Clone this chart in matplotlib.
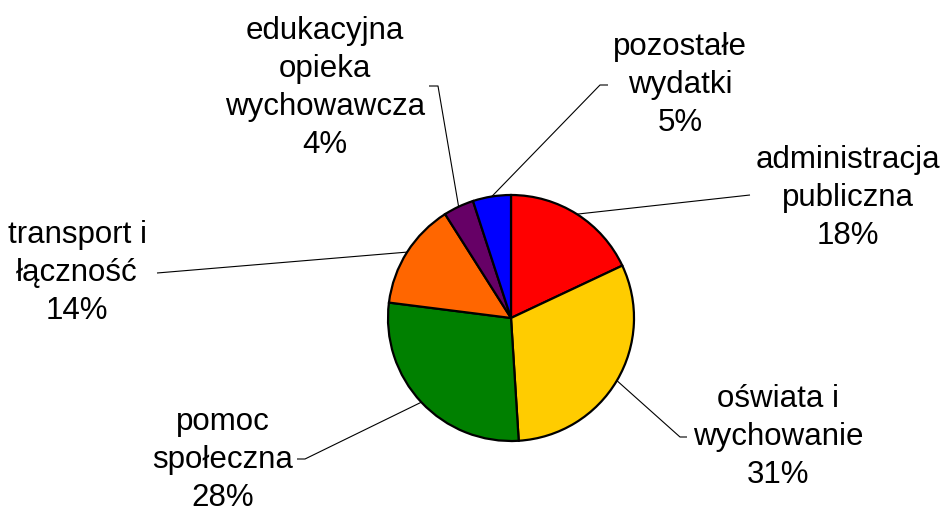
import numpy as np
import matplotlib.pyplot as plt

plt.rcParams['font.family'] = ['Liberation Sans', 'DejaVu Sans']

# data, clockwise from 12 o'clock
categories = ['administracja\npubliczna', 'oświata i\nwychowanie', 'pomoc\nspołeczna',
              'transport i\nłączność', 'edukacyjna\nopieka\nwychowawcza', 'pozostałe\nwydatki']
shares = [18, 31, 28, 14, 4, 5]
colors = ['#FF0000', '#FFCC00', '#008000', '#FF6600', '#660066', '#0000FF']

W, H = 945, 511
CENTER = (511, 318)
RADIUS = 123

# label block centres and leader line elbows / tick ends (pixel coords, y down)
label_pos = [(848, 198), (778, 437), (223, 460), (77, 273), (325, 88), (680, 85)]
elbows = [(750, 195), (680, 437), (305, 459), (157, 273), (438, 86), (600, 85)]
tick_ends = [None, (687, 437), (297, 459), None, (429, 86), (608, 85)]


def px(p):
    return p[0], H - p[1]


fig = plt.figure(figsize=(W / 100, H / 100), dpi=100)
ax = fig.add_axes([0, 0, 1, 1])
ax.set_xlim(0, W)
ax.set_ylim(0, H)
ax.set_aspect('equal')
ax.axis('off')

cx, cy = px(CENTER)
wedges, _ = ax.pie(shares, colors=colors, startangle=90, counterclock=False,
                   center=(cx, cy), radius=RADIUS,
                   wedgeprops=dict(edgecolor='black', linewidth=1.6))
ax.set_xlim(0, W)
ax.set_ylim(0, H)

for w, name, val, lp, el, te in zip(wedges, categories, shares, label_pos, elbows, tick_ends):
    mid = np.deg2rad((w.theta1 + w.theta2) / 2)
    sx = cx + RADIUS * np.cos(mid)
    sy = cy + RADIUS * np.sin(mid)
    ex, ey = px(el)
    xs, ys = [sx, ex], [sy, ey]
    if te is not None:
        tx, ty = px(te)
        xs.append(tx)
        ys.append(ty)
    ax.plot(xs, ys, color='black', linewidth=0.8, solid_capstyle='butt')
    lx, ly = px(lp)
    ax.text(lx, ly, f'{name}\n{val}%', ha='center', va='center', fontsize=22.5,
            linespacing=1.36)

fig.savefig('out.png', dpi=100)
